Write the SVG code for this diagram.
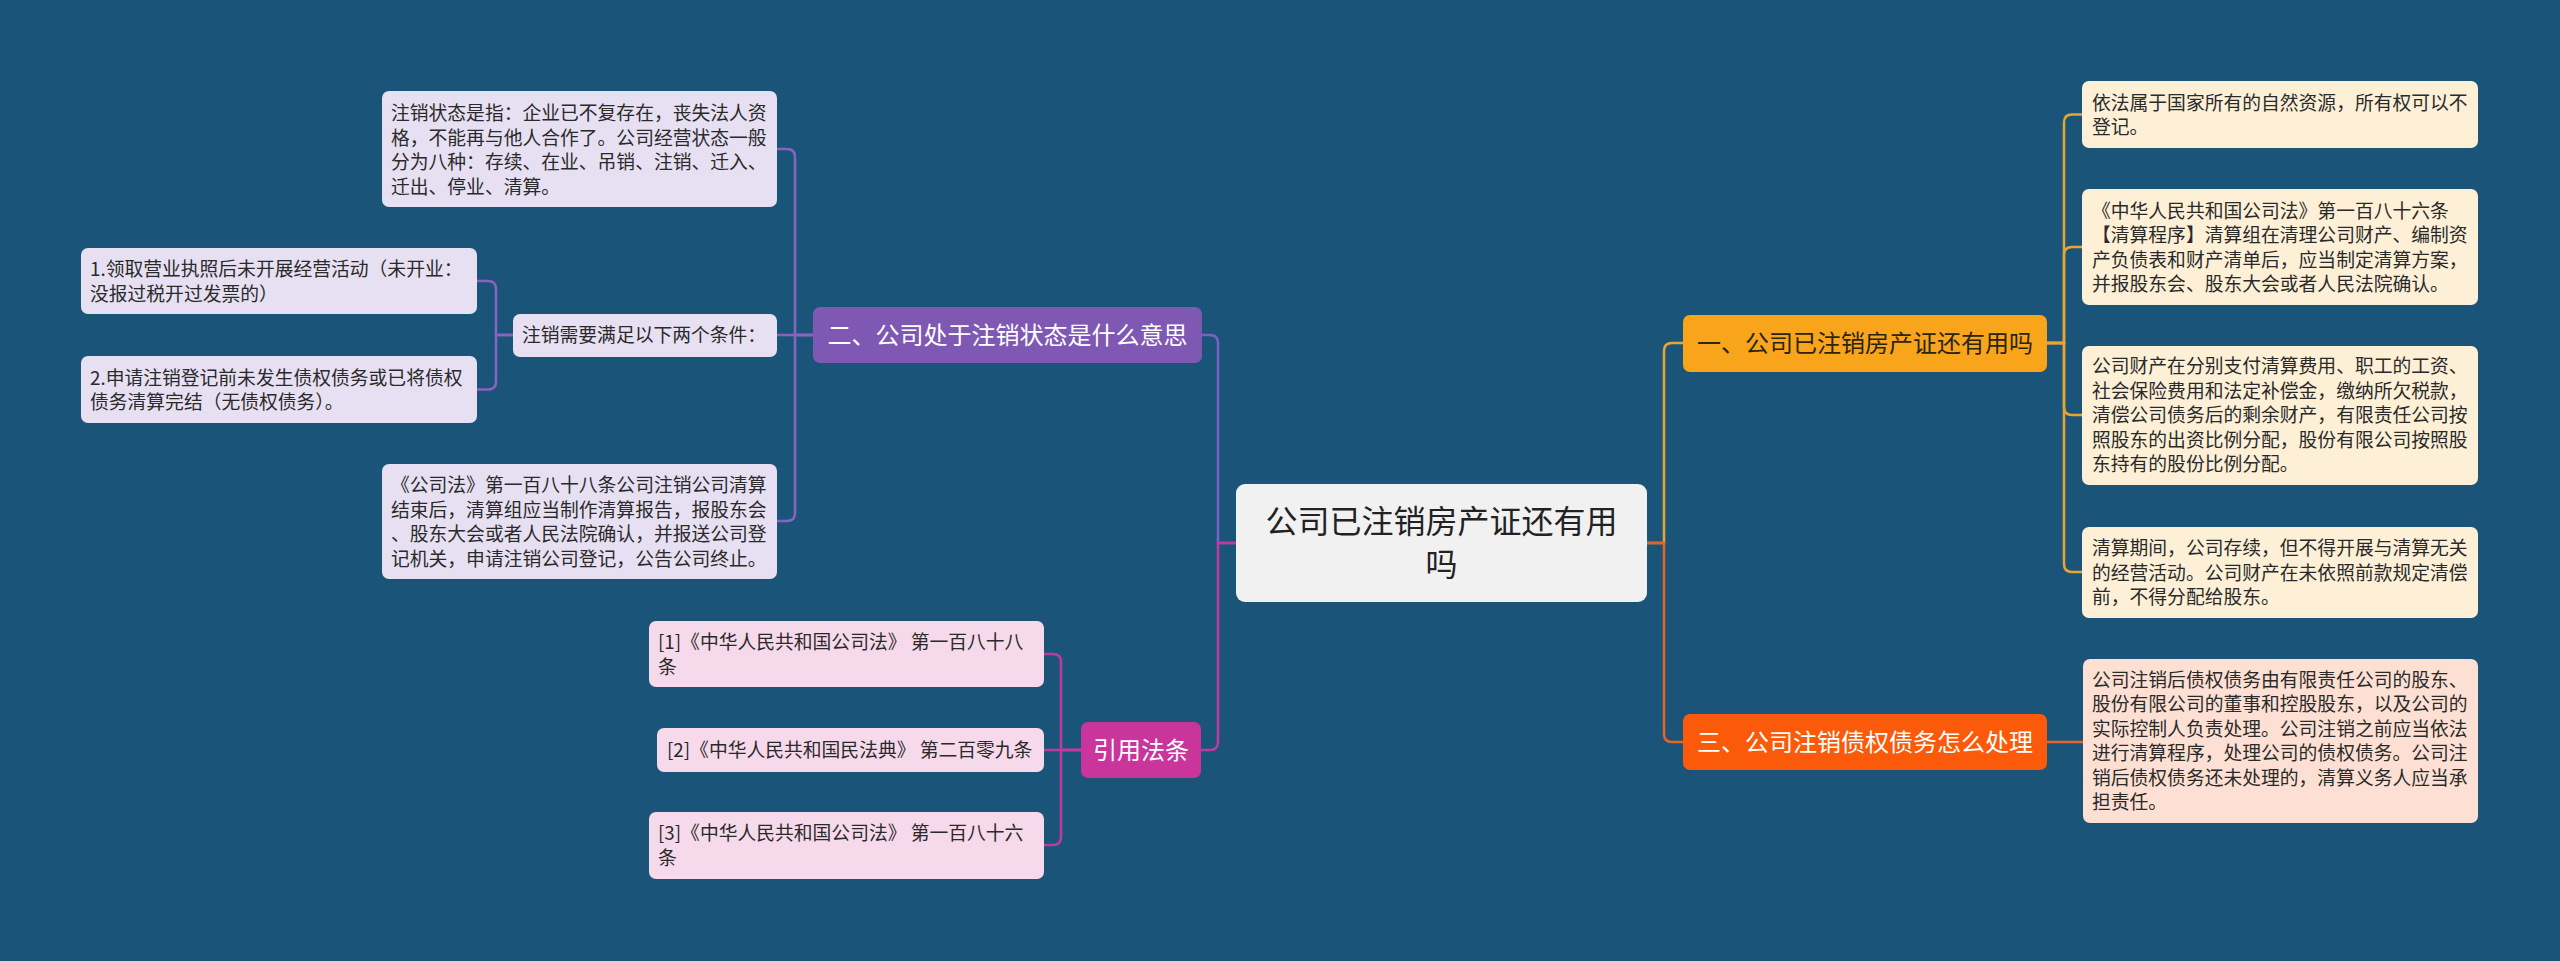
<svg xmlns="http://www.w3.org/2000/svg" width="2560" height="961" viewBox="0 0 2560 961">
<style>
text{font-family:"Noto Sans CJK SC","Noto Sans",sans-serif;}
.t{font-size:18.8px;fill:#2a2a2a;}
.b{font-size:24px;}
.c{font-size:32px;fill:#222;}
.w{fill:#ffffff;}
.k{fill:#2a2410;}
.pl{fill:#e6e0f2;}
.pk{fill:#f6d9ea;}
.or{fill:#fdf0d7;}
.rd{fill:#fde0d3;}
.ln{fill:none;stroke-width:2.5;}
</style>
<rect x="0" y="0" width="2560" height="961" fill="#1a5579"/>
<g id="connectors">
  <path class="ln" stroke="#7a62c4" d="M1236,543 H1218 V343 Q1218,335 1210,335 H1202"/>
  <path class="ln" stroke="#c03a9b" d="M1236,543 H1218 V742 Q1218,750 1210,750 H1201"/>
  <path class="ln" stroke="#e8a530" d="M1647,543 H1664 V351 Q1664,343 1672,343 H1683"/>
  <path class="ln" stroke="#e8622a" d="M1647,543 H1664 V734 Q1664,742 1672,742 H1683"/>
  <path class="ln" stroke="#8a63c0" d="M813,335 H795 V157 Q795,149 787,149 H777"/>
  <path class="ln" stroke="#8a63c0" d="M813,335 H777"/>
  <path class="ln" stroke="#8a63c0" d="M813,335 H795 V513 Q795,521 787,521 H777"/>
  <path class="ln" stroke="#8a63c0" d="M513,335 H496 V289 Q496,281 488,281 H477"/>
  <path class="ln" stroke="#8a63c0" d="M513,335 H496 V381.5 Q496,389.5 488,389.5 H477"/>
  <path class="ln" stroke="#e8a530" d="M2047,343 H2064 V122.5 Q2064,114.5 2072,114.5 H2082"/>
  <path class="ln" stroke="#e8a530" d="M2047,343 H2064 V255 Q2064,247 2072,247 H2082"/>
  <path class="ln" stroke="#e8a530" d="M2047,343 H2064 V407 Q2064,415 2072,415 H2082"/>
  <path class="ln" stroke="#e8a530" d="M2047,343 H2064 V564 Q2064,572 2072,572 H2082"/>
  <path class="ln" stroke="#e8622a" d="M2047,742 H2083"/>
  <path class="ln" stroke="#c03a9b" d="M1081,750 H1061 V662 Q1061,654 1053,654 H1044"/>
  <path class="ln" stroke="#c03a9b" d="M1081,750 H1044"/>
  <path class="ln" stroke="#c03a9b" d="M1081,750 H1061 V837 Q1061,845 1053,845 H1044"/>
</g>
<g id="center">
  <rect x="1236" y="484" width="411" height="118" rx="9" fill="#f1f1f1"/>
  <text class="c" x="1441.5" y="533" text-anchor="middle">公司已注销房产证还有用</text>
  <text class="c" x="1441.5" y="576" text-anchor="middle">吗</text>
</g>
<g id="branch-2">
  <rect x="813" y="307" width="389" height="56" rx="7" fill="#7f58b4"/>
  <text class="b w" x="1007.5" y="344" text-anchor="middle">二、公司处于注销状态是什么意思</text>
</g>
<g id="p1">
  <rect class="pl" x="382" y="91" width="395" height="116" rx="7"/>
  <text class="t" x="391" y="120">注销状态是指：企业已不复存在，丧失法人资</text>
  <text class="t" x="391" y="144.5">格，不能再与他人合作了。公司经营状态一般</text>
  <text class="t" x="391" y="169">分为八种：存续、在业、吊销、注销、迁入、</text>
  <text class="t" x="391" y="193.5">迁出、停业、清算。</text>
</g>
<g id="p2">
  <rect class="pl" x="513" y="314" width="264" height="43" rx="7"/>
  <text class="t" x="522" y="342">注销需要满足以下两个条件：</text>
</g>
<g id="q1">
  <rect class="pl" x="81" y="248" width="396" height="66" rx="7"/>
  <text class="t" x="90" y="276">1.领取营业执照后未开展经营活动（未开业：</text>
  <text class="t" x="90" y="300.5">没报过税开过发票的）</text>
</g>
<g id="q2">
  <rect class="pl" x="81" y="356" width="396" height="67" rx="7"/>
  <text class="t" x="90" y="384.5">2.申请注销登记前未发生债权债务或已将债权</text>
  <text class="t" x="90" y="409">债务清算完结（无债权债务）。</text>
</g>
<g id="p3">
  <rect class="pl" x="382" y="464" width="395" height="115" rx="7"/>
  <text class="t" x="391" y="492">《公司法》第一百八十八条公司注销公司清算</text>
  <text class="t" x="391" y="516.5">结束后，清算组应当制作清算报告，报股东会</text>
  <text class="t" x="391" y="541">、股东大会或者人民法院确认，并报送公司登</text>
  <text class="t" x="391" y="565.5">记机关，申请注销公司登记，公告公司终止。</text>
</g>
<g id="branch-law">
  <rect x="1081" y="722" width="120" height="56" rx="7" fill="#c9359a"/>
  <text class="b w" x="1141" y="759" text-anchor="middle">引用法条</text>
</g>
<g id="r1">
  <rect class="pk" x="649" y="621" width="395" height="66" rx="7"/>
  <text class="t" x="658" y="649">[1]《中华人民共和国公司法》 第一百八十八</text>
  <text class="t" x="658" y="673.5">条</text>
</g>
<g id="r2">
  <rect class="pk" x="657" y="728" width="387" height="44" rx="7"/>
  <text class="t" x="667" y="757">[2]《中华人民共和国民法典》 第二百零九条</text>
</g>
<g id="r3">
  <rect class="pk" x="649" y="812" width="395" height="67" rx="7"/>
  <text class="t" x="658" y="840">[3]《中华人民共和国公司法》 第一百八十六</text>
  <text class="t" x="658" y="864.5">条</text>
</g>
<g id="branch-1">
  <rect x="1683" y="315" width="364" height="57" rx="7" fill="#f8a51c"/>
  <text class="b k" x="1865" y="352" text-anchor="middle">一、公司已注销房产证还有用吗</text>
</g>
<g id="c1">
  <rect class="or" x="2082" y="81" width="396" height="67" rx="7"/>
  <text class="t" x="2092" y="109.5">依法属于国家所有的自然资源，所有权可以不</text>
  <text class="t" x="2092" y="134">登记。</text>
</g>
<g id="c2">
  <rect class="or" x="2082" y="189" width="396" height="116" rx="7"/>
  <text class="t" x="2092" y="217.5">《中华人民共和国公司法》第一百八十六条</text>
  <text class="t" x="2092" y="242">【清算程序】清算组在清理公司财产、编制资</text>
  <text class="t" x="2092" y="266.5">产负债表和财产清单后，应当制定清算方案，</text>
  <text class="t" x="2092" y="291">并报股东会、股东大会或者人民法院确认。</text>
</g>
<g id="c3">
  <rect class="or" x="2082" y="346" width="396" height="139" rx="7"/>
  <text class="t" x="2092" y="373">公司财产在分别支付清算费用、职工的工资、</text>
  <text class="t" x="2092" y="397.5">社会保险费用和法定补偿金，缴纳所欠税款，</text>
  <text class="t" x="2092" y="422">清偿公司债务后的剩余财产，有限责任公司按</text>
  <text class="t" x="2092" y="446.5">照股东的出资比例分配，股份有限公司按照股</text>
  <text class="t" x="2092" y="471">东持有的股份比例分配。</text>
</g>
<g id="c4">
  <rect class="or" x="2082" y="527" width="396" height="91" rx="7"/>
  <text class="t" x="2092" y="555">清算期间，公司存续，但不得开展与清算无关</text>
  <text class="t" x="2092" y="579.5">的经营活动。公司财产在未依照前款规定清偿</text>
  <text class="t" x="2092" y="604">前，不得分配给股东。</text>
</g>
<g id="branch-3">
  <rect x="1683" y="714" width="364" height="56" rx="7" fill="#fa5a0a"/>
  <text class="b w" x="1865" y="751" text-anchor="middle">三、公司注销债权债务怎么处理</text>
</g>
<g id="d1">
  <rect class="rd" x="2083" y="659" width="395" height="164" rx="7"/>
  <text class="t" x="2092" y="686.5">公司注销后债权债务由有限责任公司的股东、</text>
  <text class="t" x="2092" y="711">股份有限公司的董事和控股股东，以及公司的</text>
  <text class="t" x="2092" y="735.5">实际控制人负责处理。公司注销之前应当依法</text>
  <text class="t" x="2092" y="760">进行清算程序，处理公司的债权债务。公司注</text>
  <text class="t" x="2092" y="784.5">销后债权债务还未处理的，清算义务人应当承</text>
  <text class="t" x="2092" y="809">担责任。</text>
</g>
</svg>
